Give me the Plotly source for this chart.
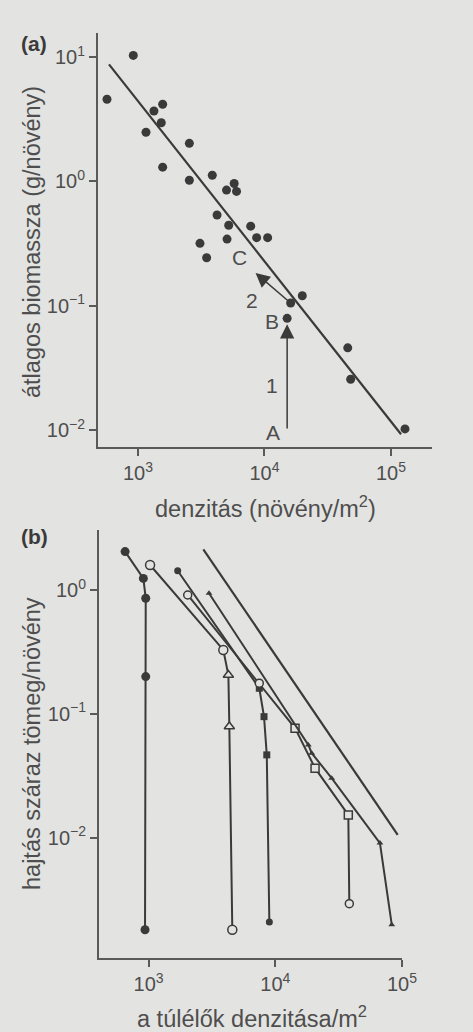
import math
import plotly.graph_objects as go

# ---------- panel (a): mean plant biomass vs. density ----------
dens_a = [569, 918, 1337, 1567, 1157, 1528, 1567, 2547, 2547, 3866,
          5010, 5760, 6010, 4217, 5213, 5058, 3090, 3490, 7780, 8670,
          10590, 16100, 19900, 45500, 48000, 129000, 15100]
mass_a = [4.57, 10.3, 3.68, 4.17, 2.48, 2.96, 1.30, 2.02, 1.02, 1.12,
          0.85, 0.96, 0.83, 0.536, 0.443, 0.343, 0.317, 0.243, 0.436, 0.352,
          0.352, 0.105, 0.120, 0.0458, 0.0256, 0.0102, 0.079]

# fitted thinning line
fit_a_x = [590, 120000]
fit_a_y = [8.73, 0.00923]

# trajectory A -> B -> C
arrow1_from = (15100, 0.0100)
arrow1_to = (15100, 0.071)
arrow2_from = (16100, 0.105)
arrow2_to = (8500, 0.183)

# letter / number labels along the trajectory
traj_labels = ["A", "1", "B", "2", "C"]
traj_label_x = [11630, 11420, 11420, 7940, 6380]
traj_label_y = [0.0096, 0.023, 0.075, 0.111, 0.242]

# ---------- panel (b): shoot dry weight vs. survivor density ----------
s1_x = [653, 910, 950, 950, 938]
s1_y = [2.04, 1.24, 0.857, 0.200, 0.00181]

s2_x = [1028, 3890, 4265, 4340, 4580]
s2_y = [1.59, 0.328, 0.206, 0.079, 0.00181]

s3_x = [1698, 7480, 8150, 8570, 8980]
s3_y = [1.43, 0.161, 0.095, 0.0467, 0.00209]

s4_x = [2037, 7480, 14320, 20600, 37700, 38400]
s4_y = [0.911, 0.177, 0.0767, 0.0365, 0.0153, 0.00294]

s5_x = [3000, 18240, 19400, 27860, 66990, 83000]
s5_y = [0.94, 0.0562, 0.0482, 0.0303, 0.00906, 0.00199]

limit_b_x = [2705, 92500]
limit_b_y = [2.13, 0.01057]

x_tickvals = [1e3, 1e4, 1e5]
x_ticktext = ["10<sup>3</sup>", "10<sup>4</sup>", "10<sup>5</sup>"]
ya_tickvals = [10, 1, 0.1, 0.01]
ya_ticktext = ["10<sup>1</sup>", "10<sup>0</sup>", "10<sup>−1</sup>", "10<sup>−2</sup>"]
yb_tickvals = [1, 0.1, 0.01]
yb_ticktext = ["10<sup>0</sup>", "10<sup>−1</sup>", "10<sup>−2</sup>"]

INK = "#3a3a3a"
TXT = "#4e4e4e"
BG = "#e3e3e1"
FONT = "Liberation Sans, Arial, sans-serif"
W, H = 473, 1032
# horizontal extent actually available to the plot inside the page
W_VIEW = 458

fig = go.Figure()

# panel (a)
fig.add_trace(go.Scatter(x=fit_a_x, y=fit_a_y, mode="lines",
                         line=dict(color=INK, width=2.2),
                         xaxis="x", yaxis="y", showlegend=False))
fig.add_trace(go.Scatter(x=dens_a, y=mass_a, mode="markers",
                         marker=dict(color=INK, size=9),
                         xaxis="x", yaxis="y", showlegend=False))

# panel (b)
def open_marker(symbols, size):
    return dict(symbol=symbols, size=size, color=BG,
                line=dict(color=INK, width=1.5))

fig.add_trace(go.Scatter(x=limit_b_x, y=limit_b_y, mode="lines",
                         line=dict(color=INK, width=2.2),
                         xaxis="x2", yaxis="y2", showlegend=False))
fig.add_trace(go.Scatter(x=s1_x, y=s1_y, mode="lines+markers",
                         line=dict(color=INK, width=2),
                         marker=dict(color=INK, size=9),
                         xaxis="x2", yaxis="y2", showlegend=False))
fig.add_trace(go.Scatter(x=s2_x, y=s2_y, mode="lines+markers",
                         line=dict(color=INK, width=2),
                         marker=open_marker(["circle", "circle", "triangle-up",
                                             "triangle-up", "circle"], 9),
                         xaxis="x2", yaxis="y2", showlegend=False))
fig.add_trace(go.Scatter(x=s3_x, y=s3_y, mode="lines+markers",
                         line=dict(color=INK, width=2),
                         marker=dict(color=INK, size=7,
                                     symbol=["circle", "square", "square",
                                             "square", "circle"]),
                         xaxis="x2", yaxis="y2", showlegend=False))
fig.add_trace(go.Scatter(x=s4_x, y=s4_y, mode="lines+markers",
                         line=dict(color=INK, width=2),
                         marker=open_marker(["circle", "circle", "square", "square",
                                             "square", "circle"], 8),
                         xaxis="x2", yaxis="y2", showlegend=False))
fig.add_trace(go.Scatter(x=s5_x, y=s5_y, mode="lines+markers",
                         line=dict(color=INK, width=2),
                         marker=dict(color=INK, size=6, symbol="triangle-up"),
                         xaxis="x2", yaxis="y2", showlegend=False))

axis_common = dict(type="log", showline=True, linecolor="#5a5a5a", linewidth=2,
                   ticks="outside", ticklen=7, tickwidth=1.5, tickcolor="#5a5a5a",
                   showgrid=False, zeroline=False,
                   tickfont=dict(family=FONT, size=20, color=TXT))


def xfrac(px):
    return px / W_VIEW


def yfrac(py):
    return 1 - py / H


fig.update_layout(
    width=W, height=H, autosize=False,
    margin=dict(l=0, r=0, t=0, b=0),
    paper_bgcolor=BG, plot_bgcolor=BG,
    xaxis=dict(axis_common, domain=[xfrac(98), xfrac(432)], range=[2.684, 5.324],
               tickvals=x_tickvals, ticktext=x_ticktext, anchor="y"),
    yaxis=dict(axis_common, domain=[yfrac(447), yfrac(33)], range=[-2.137, 1.193],
               tickvals=ya_tickvals, ticktext=ya_ticktext, anchor="x"),
    xaxis2=dict(axis_common, domain=[xfrac(99), xfrac(402)], range=[2.609, 5.0],
                tickvals=x_tickvals, ticktext=x_ticktext, anchor="y2"),
    yaxis2=dict(axis_common, domain=[yfrac(958), yfrac(530)], range=[-2.97, 0.484],
                tickvals=yb_tickvals, ticktext=yb_ticktext, anchor="x2"),
)

ann = []
# trajectory arrows
for (x0, y0), (x1, y1) in [(arrow1_from, arrow1_to), (arrow2_from, arrow2_to)]:
    ann.append(dict(x=math.log10(x1), y=math.log10(y1),
                    ax=math.log10(x0), ay=math.log10(y0),
                    xref="x", yref="y", axref="x", ayref="y",
                    text="", showarrow=True, arrowhead=2, arrowsize=1.9,
                    arrowwidth=1.5, arrowcolor=INK, standoff=0, startstandoff=0))
for t, lx, ly in zip(traj_labels, traj_label_x, traj_label_y):
    ann.append(dict(x=math.log10(lx), y=math.log10(ly), xref="x", yref="y",
                    text=t, showarrow=False, xanchor="center", yanchor="middle",
                    font=dict(family=FONT, size=21, color=TXT)))

title_font = dict(family=FONT, size=23.5, color=TXT)
label_font = dict(family=FONT, size=21, color=INK)


def paper_text(px, py, text, font, angle=0):
    return dict(x=xfrac(px), y=yfrac(py), xref="paper", yref="paper", text=text,
                textangle=angle, showarrow=False, xanchor="center",
                yanchor="middle", font=font)


ann += [
    paper_text(34, 44, "<b>(a)</b>", label_font),
    paper_text(34, 536, "<b>(b)</b>", label_font),
    paper_text(32, 242, "átlagos biomassza (g/növény)", title_font, -90),
    paper_text(265, 507, "denzitás (növény/m<sup>2</sup>)", title_font),
    paper_text(32, 744, "hajtás száraz tömeg/növény", title_font, -90),
    paper_text(252, 1017, "a túlélők denzitása/m<sup>2</sup>", title_font),
]
fig.update_layout(annotations=ann)

fig.write_html("out.html")
